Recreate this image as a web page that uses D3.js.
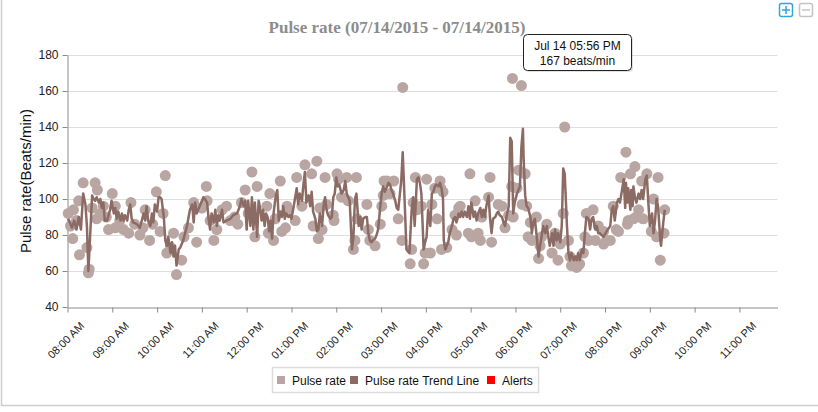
<!DOCTYPE html>
<html><head><meta charset="utf-8">
<script src="https://cdnjs.cloudflare.com/ajax/libs/d3/7.8.5/d3.min.js"></script>
<style>
html,body{margin:0;padding:0;background:#fff;}
svg{display:block;}
</style></head><body>
<svg id="chart" width="818" height="412"></svg>
<script>
// ---- data ----
const titleText = "Pulse rate (07/14/2015 - 07/14/2015)";
const yLabel = "Pulse rate(Beats/min)";
const startTime = "2015-07-14 08:00";
const endTime = "2015-07-14 23:51";
const yTicks = [40, 60, 80, 100, 120, 140, 160, 180];
const xTickHours = [8, 9, 10, 11, 12, 13, 14, 15, 16, 17, 18, 19, 20, 21, 22, 23];
const legendItems = ["Pulse rate", "Pulse rate Trend Line", "Alerts"];
// readings: [minutes after 08:00, beats/min]
const pulseReadings = [
[1,92],[4,85],[7,78],[8,94],[12,88],[15,99],[16,69],[21,109],[26,73],[28,59],[29,61],[33,95],[37,109],[39,89],[40,105],[44,92],[48,96],[52,90],[55,83],[60,103],[64,84],[64,96],[70,88],[75,83],[82,81],[85,98],[90,86],[97,80],[101,84],[104,94],[110,77],[114,86],[119,104],[124,82],[128,92],[131,113],[133,70],[138,73],[142,81],[146,58],[153,66],[156,79],[162,84],[169,98],[173,76],[180,95],[186,107],[187,99],[191,88],[196,77],[200,83],[207,94],[213,96],[218,88],[224,90],[228,86],[233,98],[238,105],[242,92],[247,115],[251,79],[254,107],
[267,96],[269,81],[271,103],[276,77],[278,89],[285,110],[287,82],[292,84],[294,96],[296,94],[305,88],[307,112],[314,96],[318,119],[327,114],[329,85],[334,121],[336,78],[338,95],[341,83],[345,112],[347,97],[356,91],[357,88],[361,114],[363,111],[367,101],[374,112],[376,99],[383,72],[385,77],[387,112],[388,89],[401,97],[403,83],[405,77],[412,74],[419,86],[421,96],[423,102],[424,110],[428,110],[432,103],[437,110],[443,89],[448,77],[449,162],[459,64],[461,72],[463,98],[466,112],[468,94],[474,96],[477,64],[479,70],[481,111],[486,70],[488,97],[492,106],[495,89],[499,110],[500,106],[501,72],[503,104],[508,73],
[515,83],[519,91],[521,80],[524,95],[526,96],[537,81],[539,114],[541,79],[546,99],[550,81],[553,77],[555,90],[564,101],[566,112],[568,76],[577,97],[582,96],[586,84],[591,91],[595,107],[596,167],[597,90],[602,106],[604,116],[608,163],[609,97],[613,114],[615,96],[617,79],[620,87],[622,77],[628,90],[631,67],[633,74],[635,79],[642,86],[649,70],[653,81],[657,66],[660,75],[664,92],[666,140],[671,77],[673,68],[675,63],[680,66],[682,62],[684,63],[686,64],[691,70],[693,79],[695,92],[698,77],[704,94],[707,77],[711,85],
[718,82],[718,75],[722,77],[727,77],[731,96],[735,83],[738,82],[741,112],[748,126],[750,86],[751,88],[754,114],[758,89],[760,118],[762,90],[765,94],[769,110],[771,89],[776,114],[782,82],[785,100],[789,79],[791,112],[794,66],[799,81],[800,94]
];
const trendLine = [
[1,89],[6,84],[9,88],[12,83],[15,90],[18,83],[21,103],[24,97],[26,85],[28,60],[33,102],[35,100],[37,99],[39,101],[42,98],[44,100],[46,95],[48,98],[50,88],[53,88],[55,91],[57,94],[59,99],[62,92],[64,95],[66,89],[68,93],[71,88],[73,92],[75,88],[77,91],[80,88],[82,94],[84,97],[86,89],[88,87],[93,86],[97,84],[102,92],[104,88],[106,96],[108,88],[111,85],[113,92],[115,87],[117,97],[120,93],[122,101],[124,101],[126,100],[129,90],[131,77],[133,74],[135,79],[138,70],[140,76],[142,68],[144,74],[146,63],[149,72],[151,73],[155,77],[160,85],[164,94],[167,97],[169,87],[171,98],[173,92],[178,97],[182,101],[184,100],[187,98],[189,89],[191,83],[193,92],[196,87],[198,94],[200,85],[202,91],[204,88],[207,94],[209,87],[213,88],[218,89],[222,91],[227,92],[231,96],[233,100],[236,96],[238,99],[240,83],[242,99],[245,85],[247,101],[249,83],[251,98],[254,79],[256,99],
[258,95],[260,88],[262,94],[264,85],[266,92],[268,90],[270,82],[272,88],[274,78],[276,92],[279,102],[281,105],[283,88],[285,93],[287,90],[289,96],[291,89],[293,92],[296,90],[298,91],[300,89],[303,96],[307,106],[309,97],[311,103],[314,99],[316,108],[318,115],[320,98],[323,102],[325,96],[327,104],[329,93],[332,89],[334,82],[336,83],[338,92],[341,85],[343,96],[345,101],[347,94],[349,91],[352,89],[354,90],[356,101],[358,103],[360,112],[362,107],[364,108],[367,103],[370,105],[372,110],[374,103],[376,101],[378,99],[381,72],[383,79],[385,100],[387,103],[390,85],[392,90],[394,83],[396,89],[399,90],[401,90],[403,81],[405,77],[407,76],[409,77],[412,78],[414,80],[416,83],[419,96],[421,104],[423,107],[425,104],[428,107],[430,109],[432,108],[434,105],[436,103],[439,99],[441,95],[443,94],[447,110],[449,126],[451,105],[454,72],[458,70],[461,94],[463,101],[465,85],[468,111],[470,112],[472,109],[474,103],[477,72],[479,76],[481,79],[483,94],[486,85],[488,103],[490,104],[492,107],[494,108],[497,107],[499,109],
[501,106],[503,100],[504,77],[506,72],[508,74],[510,76],[512,81],[515,85],[517,89],[519,90],[521,87],[524,92],[526,90],[528,93],[530,90],[532,93],[535,90],[537,96],[539,89],[541,98],[544,90],[546,93],[548,88],[550,92],[553,95],[555,90],[557,94],[559,90],[561,96],[564,102],[566,89],[568,81],[570,89],[573,90],[575,92],[577,93],[579,91],[582,90],[584,87],[586,85],[588,90],[591,96],[593,134],[595,132],[597,92],[599,98],[602,103],[604,105],[606,107],[608,129],[610,139],[611,122],[613,102],[615,96],[617,95],[620,90],[622,81],[624,87],[626,89],[628,81],[631,68],[633,74],[635,79],[637,85],[640,81],[642,85],[644,79],[646,74],[649,81],[651,74],[653,83],[655,77],[657,81],[660,76],[662,85],[664,117],[666,114],[669,85],[671,70],[673,66],[675,70],[678,66],[680,68],[682,66],[684,70],[686,66],[689,72],[691,70],[693,81],[695,90],[698,89],[700,83],[702,89],[704,90],[707,83],[709,85],[711,81],
[713,81],[718,79],[722,82],[727,85],[729,94],[731,96],[733,88],[736,98],[738,100],[740,98],[742,103],[745,111],[747,95],[748,109],[750,98],[751,106],[754,94],[755,105],[757,96],[758,107],[760,101],[762,98],[765,103],[767,100],[769,105],[771,100],[774,111],[776,113],[778,98],[780,85],[783,92],[785,81],[787,88],[789,100],[791,96],[794,77],[795,74],[798,87],[800,94]
];
const alerts = [];
const tooltipMinute = 596;

// ---- chart ----
const svg = d3.select("#chart");
const parse = d3.timeParse("%Y-%m-%d %H:%M");
const t0 = parse(startTime);
const toDate = m => new Date(t0.getTime() + m * 60000);
const x = d3.scaleTime().domain([t0, parse(endTime)]).range([67.5, 777.5]);
const y = d3.scaleLinear().domain([40, 180]).range([307, 55]);
const font = "'Liberation Sans', Arial, sans-serif";
const dotColor = "#b9a6a2", lineColor = "#8b6b63";

// outer border
svg.append("path").attr("d", "M1.5,0V405.5H818").attr("fill", "none").attr("stroke", "#cfcfcf").attr("stroke-width", 1.5);

// gridlines
svg.append("g").selectAll("line").data(yTicks.slice(1)).join("line")
  .attr("x1", x.range()[0]).attr("x2", x.range()[1])
  .attr("y1", d => Math.round(y(d)) + 0.5).attr("y2", d => Math.round(y(d)) + 0.5)
  .attr("stroke", "#dedede").attr("stroke-width", 1);

// y axis
const yAxis = svg.append("g").attr("transform", "translate(67.5,0)")
  .call(d3.axisLeft(y).tickValues(yTicks).tickSize(5).tickSizeOuter(0).tickPadding(4));
yAxis.select(".domain").attr("stroke", "#8a8a8a");
yAxis.selectAll(".tick line").attr("stroke", "#8a8a8a");
yAxis.selectAll("text").attr("font-family", font).attr("font-size", 12).attr("fill", "#222");

// x axis
const xTicks = xTickHours.map(h => { const d = new Date(t0); d.setHours(h, 0, 0, 0); return d; });
const xAxis = svg.append("g").attr("transform", "translate(0,307.5)")
  .call(d3.axisBottom(x).tickValues(xTicks).tickFormat(d3.timeFormat("%I:%M %p")).tickSize(5).tickSizeOuter(0));
xAxis.select(".domain").attr("stroke", "#8a8a8a");
xAxis.selectAll(".tick line").attr("stroke", "#8a8a8a");
xAxis.selectAll("text").attr("font-family", font).attr("font-size", 11).attr("fill", "#222")
  .attr("text-anchor", "end").attr("x", 0).attr("y", 0).attr("dy", 0)
  .attr("transform", "translate(17,19) rotate(-45)");

// y label
svg.append("text").attr("transform", "translate(31,181) rotate(-90)")
  .attr("text-anchor", "middle").attr("font-family", font).attr("font-size", 15).attr("fill", "#111")
  .text(yLabel);

// title
svg.append("text").attr("x", 397).attr("y", 33).attr("text-anchor", "middle")
  .attr("font-family", "'Liberation Serif', 'Times New Roman', serif").attr("font-weight", "bold")
  .attr("font-size", 17).attr("fill", "#8c8c8c").text(titleText);

// dots
svg.append("g").selectAll("circle").data(pulseReadings).join("circle")
  .attr("cx", d => x(toDate(d[0]))).attr("cy", d => y(d[1])).attr("r", 5.5)
  .attr("fill", dotColor);

// trend line
svg.append("path").datum(trendLine)
  .attr("d", d3.line().x(d => x(toDate(d[0]))).y(d => y(d[1])))
  .attr("fill", "none").attr("stroke", lineColor).attr("stroke-width", 2.5).attr("stroke-linejoin", "round");

// alerts (none)
svg.append("g").selectAll("circle").data(alerts).join("circle")
  .attr("cx", d => x(toDate(d[0]))).attr("cy", d => y(d[1])).attr("r", 5.5).attr("fill", "red");

// tooltip
const tp = pulseReadings.find(d => d[0] === tooltipMinute);
const px = x(toDate(tp[0])), py = y(tp[1]);
const tg = svg.append("g").attr("transform", `translate(${Math.round(px + 11) + 0.5},${Math.round(py - 44) + 0.5})`);
tg.append("rect").attr("x", 1.5).attr("y", 1.5).attr("width", 108).attr("height", 36).attr("rx", 4)
  .attr("fill", "#000").attr("opacity", 0.12);
tg.append("rect").attr("width", 108).attr("height", 36).attr("rx", 4)
  .attr("fill", "#fff").attr("stroke", "#222").attr("stroke-width", 1);
tg.append("text").attr("x", 54).attr("y", 15).attr("text-anchor", "middle")
  .attr("font-family", font).attr("font-size", 12).attr("fill", "#111")
  .text(d3.timeFormat("%b %d %I:%M %p")(toDate(tp[0])));
tg.append("text").attr("x", 54).attr("y", 30).attr("text-anchor", "middle")
  .attr("font-family", font).attr("font-size", 12).attr("fill", "#111")
  .text(tp[1] + " beats/min");

// legend
const lg = svg.append("g");
lg.append("rect").attr("x", 272.5).attr("y", 367.5).attr("width", 266).attr("height", 25)
  .attr("fill", "#fff").attr("stroke", "#dcdcdc").attr("stroke-width", 1.5);
const legendColors = [dotColor, lineColor, "#ff0000"];
const legendSquareX = [277, 350, 487];
legendItems.forEach((name, i) => {
  lg.append("rect").attr("x", legendSquareX[i]).attr("y", 376).attr("width", 8).attr("height", 8).attr("fill", legendColors[i]);
  lg.append("text").attr("x", legendSquareX[i] + 15).attr("y", 384.5)
    .attr("font-family", font).attr("font-size", 12).attr("fill", "#111").text(name);
});

// zoom icons
const zi = svg.append("g");
zi.append("rect").attr("x", 779.5).attr("y", 3.5).attr("width", 13).attr("height", 13).attr("rx", 2)
  .attr("fill", "#fff").attr("stroke", "#2aa8e0").attr("stroke-width", 1.5);
zi.append("path").attr("d", "M786,6V14M782,10H790").attr("stroke", "#2aa8e0").attr("stroke-width", 1.5);
zi.append("rect").attr("x", 799.5).attr("y", 3.5).attr("width", 13).attr("height", 13).attr("rx", 2)
  .attr("fill", "#fff").attr("stroke", "#c4c4c4").attr("stroke-width", 1.5);
zi.append("path").attr("d", "M802,10H810").attr("stroke", "#c4c4c4").attr("stroke-width", 1.5);
</script>
</body></html>
